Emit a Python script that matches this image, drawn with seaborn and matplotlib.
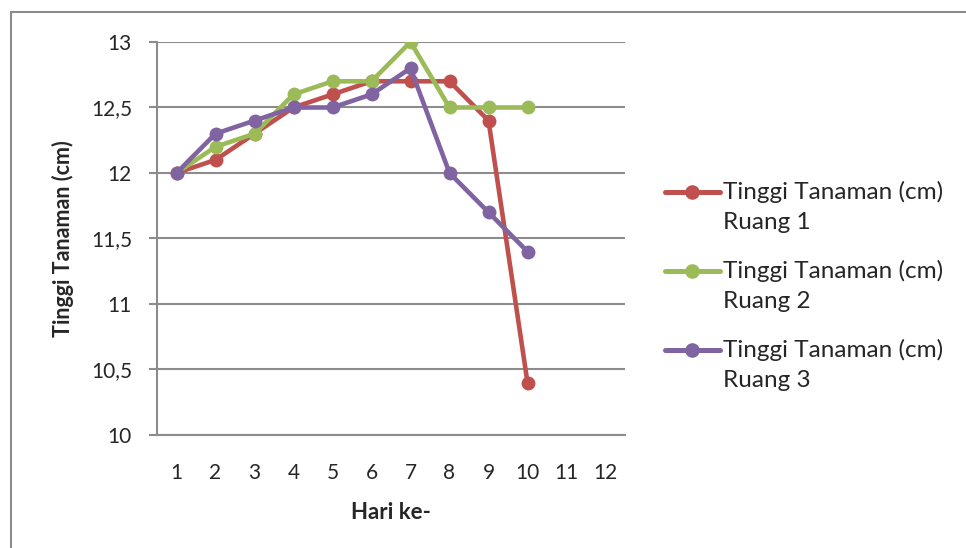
import matplotlib
matplotlib.use("Agg")
import matplotlib.pyplot as plt
import matplotlib.patches as mpatches
from matplotlib.legend_handler import HandlerLine2D
from matplotlib.transforms import Affine2D
import seaborn as sns
import pandas as pd

# Plant height measurements per day for three rooms
hari = [1, 2, 3, 4, 5, 6, 7, 8, 9, 10]
ruang_1 = [12.0, 12.1, 12.3, 12.5, 12.6, 12.7, 12.7, 12.7, 12.4, 10.4]
ruang_2 = [12.0, 12.2, 12.3, 12.6, 12.7, 12.7, 13.0, 12.5, 12.5, 12.5]
ruang_3 = [12.0, 12.3, 12.4, 12.5, 12.5, 12.6, 12.8, 12.0, 11.7, 11.4]
series_names = ["Tinggi Tanaman (cm)\nRuang 1",
                "Tinggi Tanaman (cm)\nRuang 2",
                "Tinggi Tanaman (cm)\nRuang 3"]
x_ticks = list(range(1, 13))
y_ticks = [10, 10.5, 11, 11.5, 12, 12.5, 13]
y_tick_labels = ["10", "10,5", "11", "11,5", "12", "12,5", "13"]
colors = ["#C0504D", "#9BBB59", "#8064A2"]

frames = []
for name, vals in zip(series_names, [ruang_1, ruang_2, ruang_3]):
    frames.append(pd.DataFrame({"Hari": hari, "Tinggi": vals, "Seri": name}))
df = pd.concat(frames, ignore_index=True)

sns.set_theme(style="white")
plt.rcParams["font.family"] = ["Lato", "DejaVu Sans"]

fig = plt.figure(figsize=(9.66, 5.48), dpi=100)
ax = fig.add_axes([157 / 966, 1 - 435 / 548, (625 - 157) / 966, (435 - 42) / 548])

sns.lineplot(data=df, x="Hari", y="Tinggi", hue="Seri", palette=colors,
             marker="o", markersize=10, markeredgewidth=0, linewidth=3.3,
             ax=ax, legend=True)

ax.set_xlim(0.5, 12.5)
ax.set_ylim(10, 13)
ax.set_xticks(x_ticks)
ax.set_xticklabels([str(t) for t in x_ticks])
ax.set_yticks(y_ticks)
ax.set_yticklabels(y_tick_labels)

grid_color = "#8C8C8C"
ax.grid(axis="y", color=grid_color, linewidth=1.5)
ax.set_axisbelow(True)
for side in ["top", "right"]:
    ax.spines[side].set_visible(False)
for side in ["left", "bottom"]:
    ax.spines[side].set_color(grid_color)
    ax.spines[side].set_linewidth(1.5)

ax.tick_params(axis="y", length=6, width=1.5, color=grid_color, labelsize=15,
               pad=12, left=True)
ax.tick_params(axis="x", length=0, labelsize=15, pad=20)

ax.set_xlabel("Hari ke-", fontsize=16, fontweight="bold", labelpad=14)
ax.set_ylabel("Tinggi Tanaman (cm)", fontsize=15.5, fontweight="bold")
ax.yaxis.label.set_verticalalignment("center")
ax.yaxis.set_label_coords((63 - 157) / (625 - 157), 0.5)


class FirstLineHandler(HandlerLine2D):
    """Legend key placed beside the first line of a two-line label."""

    def create_artists(self, legend, orig_handle, xdescent, ydescent,
                       width, height, fontsize, trans):
        shifted = trans + Affine2D().translate(0, 15)
        return super().create_artists(legend, orig_handle, xdescent, ydescent,
                                      width, height, fontsize, shifted)


handles, labels = ax.get_legend_handles_labels()
for h in handles:
    h.set_linewidth(3.6)
    h.set_markersize(10.5)
leg = ax.legend(handles, labels, loc="center left",
                bbox_to_anchor=(665 / 966, 1 - 286 / 548),
                bbox_transform=fig.transFigure,
                frameon=False, fontsize=17.5, handlelength=2.25,
                handletextpad=0.15, labelspacing=1.1,
                borderpad=0, borderaxespad=0,
                handler_map={h: FirstLineHandler() for h in handles})
for t in leg.get_texts():
    t.set_linespacing(1.55)

# Outer chart frame
fig.add_artist(mpatches.Rectangle((11 / 966, -0.1), 1.2, 0.1 + (548 - 12) / 548,
                                  transform=fig.transFigure, fill=False,
                                  edgecolor="#8C8C8C", linewidth=1.5))

fig.savefig("out.png", dpi=100, facecolor="white")
